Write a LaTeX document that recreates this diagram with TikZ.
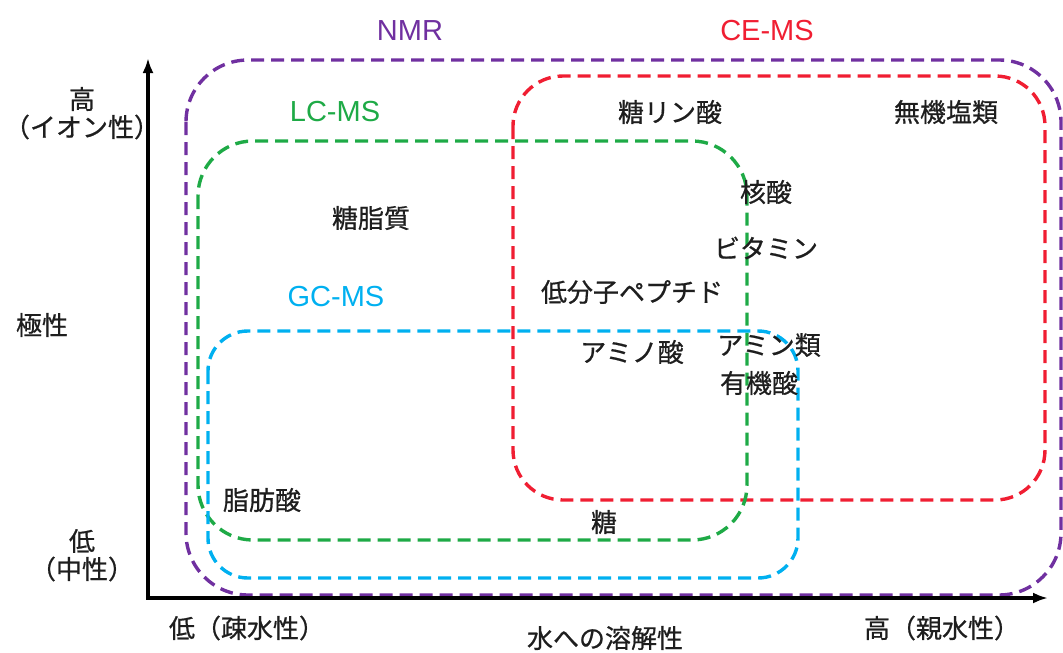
\documentclass[tikz,border=0pt]{standalone}
\usepackage{fontspec}
\setmainfont[FakeBold=0.7]{Noto Sans CJK JP}
\newfontfamily\latinfont{Liberation Sans}
\usetikzlibrary{arrows.meta}
\definecolor{nmrc}{RGB}{112,48,160}
\definecolor{cec}{RGB}{240,30,50}
\definecolor{lcc}{RGB}{30,170,70}
\definecolor{gcc}{RGB}{0,176,240}
\definecolor{txt}{RGB}{30,30,30}
\tikzset{
  region/.style={line width=3.4pt, dash pattern=on 13pt off 7pt},
  lbl/.style={inner sep=0pt, text=txt, font=\fontsize{26}{30}\selectfont},
  meth/.style={inner sep=0pt, font=\latinfont\fontsize{29}{32}\selectfont},
  axis/.style={line width=3.6pt, -{Latex[length=15pt,width=11pt]}}
}
\begin{document}
\begin{tikzpicture}[x=1pt,y=-1pt]
\useasboundingbox (0,0) rectangle (1063,653);
% regions
\draw[region, nmrc, rounded corners=62pt] (186,60) rectangle (1061,595);
\draw[region, cec, rounded corners=50pt] (513,76) rectangle (1045,500);
\draw[region, lcc, rounded corners=55pt] (198,141) rectangle (747,540);
\draw[region, gcc, rounded corners=40pt] (208,331) rectangle (798,578);
% axes
\coordinate (O) at (148,598);
\coordinate (ytop) at (148,58);
\coordinate (xend) at (1048,598);
\draw[axis] (O) -- (ytop);
\draw[axis] (O) -- (xend);
\fill (146.2,596.2) rectangle (149.8,599.8);
% method labels
\node[meth, text=nmrc] (nmr) at (410,31) {NMR};
\node[meth, text=cec] (ce) at (767,31) {CE-MS};
\node[meth, text=lcc] (lc) at (335,112) {LC-MS};
\node[meth, text=gcc] (gc) at (336,297) {GC-MS};
% axis labels
\node[lbl] (yhigh) at (82,99) {高};
\node[lbl] (yion) at (82,127) {（イオン性）};
\node[lbl] (ypol) at (42,325) {極性};
\node[lbl] (ylow) at (82,541) {低};
\node[lbl] (yneu) at (82,569) {（中性）};
\node[lbl] (xlow) at (247,628) {低（疎水性）};
\node[lbl] (xtitle) at (605,638) {水への溶解性};
\node[lbl] (xhigh) at (942,628) {高（親水性）};
% compounds
\node[lbl] (glycolipid) at (371,218) {糖脂質};
\node[lbl] (sugarp) at (670,112) {糖リン酸};
\node[lbl] (inorg) at (946,112) {無機塩類};
\node[lbl] (nuc) at (766,192) {核酸};
\node[lbl] (vit) at (766,248) {ビタミン};
\node[lbl] (pep) at (632,292) {低分子ペプチド};
\node[lbl] (amino) at (632,352) {アミノ酸};
\node[lbl] (amine) at (769,345) {アミン類};
\node[lbl] (organic) at (759,383) {有機酸};
\node[lbl] (fatty) at (262,500) {脂肪酸};
\node[lbl] (sugar) at (604,522) {糖};
\end{tikzpicture}
\end{document}
